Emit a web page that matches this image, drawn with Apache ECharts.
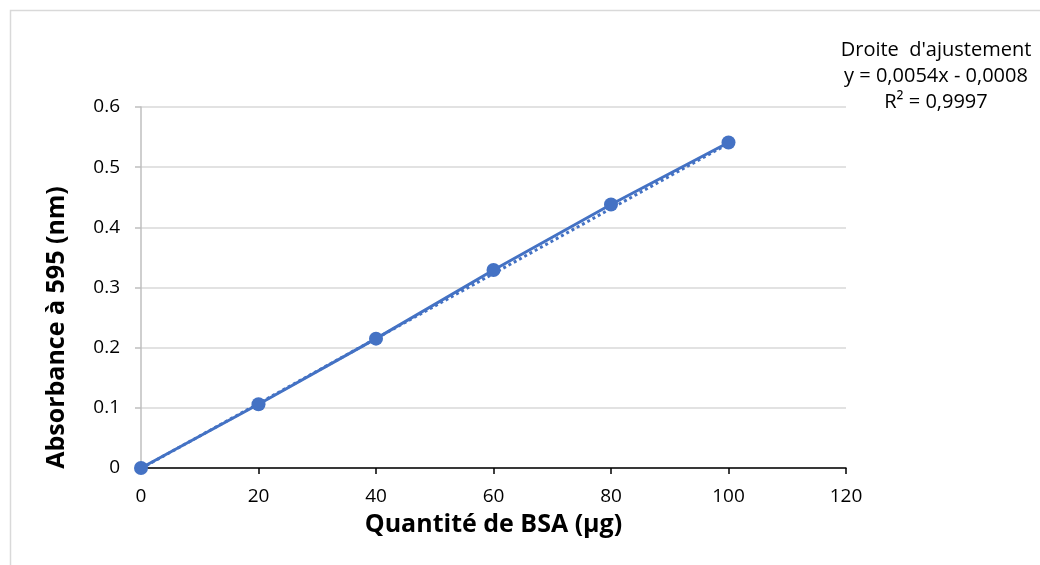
<!DOCTYPE html>
<html style="height: 100%">
    <head>
        <meta charset="utf-8">
    </head>
    <body style="height: 100%; margin: 0; background: #fff">
        <div id="container" style="width: 1040px; height: 565px"></div>
        <script type="text/javascript" src="https://cdn.jsdelivr.net/npm/echarts@6/dist/echarts.min.js"></script>
        <script type="text/javascript">

var xValues = [0, 20, 40, 60, 80, 100];
var absorbance = [0, 0.106, 0.215, 0.329, 0.438, 0.541];
// trendline ends as given by the fit y = 0,0054x - 0,0008
var trendX = [0, 100];
var trendY = [-0.0008, 0.5392];
var fitLabel = ["Droite  d'ajustement", 'y = 0,0054x - 0,0008', 'R² = 0,9997'];

var blue = '#4472C4';
var font = '"Open Sans", sans-serif';

var dom = document.getElementById('container');
var myChart = echarts.init(dom);

var option = {
    animation: false,
    backgroundColor: '#fff',
    textStyle: { fontFamily: font },
    graphic: [
        {
            type: 'polyline',
            shape: { points: [[10.5, 600], [10.5, 10.5], [1100, 10.5]] },
            style: { stroke: '#d9d9d9', lineWidth: 1.5, fill: null }
        },
        {
            type: 'text',
            x: 936,
            y: 37,
            style: {
                text: fitLabel.join('\n'),
                textAlign: 'center',
                fontFamily: font,
                fontSize: 20,
                lineHeight: 26,
                fill: '#000'
            }
        }
    ],
    grid: { left: 141, top: 107, width: 705, height: 361, containLabel: false },
    xAxis: {
        type: 'value',
        min: 0, max: 120, interval: 20,
        name: 'Quantité de BSA (µg)',
        nameLocation: 'middle',
        nameGap: 44,
        nameTextStyle: { fontFamily: font, fontSize: 25, fontWeight: 'bold', color: '#000' },
        axisLine: { onZero: false, lineStyle: { color: '#000', width: 1.5 } },
        axisTick: { show: true, length: 6, lineStyle: { color: '#000', width: 1.5 } },
        axisLabel: { fontFamily: font, fontSize: 19, color: '#000', margin: 19 },
        splitLine: { show: false }
    },
    yAxis: {
        type: 'value',
        min: 0, max: 0.6, interval: 0.1,
        name: 'Absorbance à 595 (nm)',
        nameLocation: 'middle',
        nameRotate: 90,
        nameGap: 72,
        nameTextStyle: {
            fontFamily: font, fontSize: 25, fontWeight: 'bold', color: '#000',
            padding: [0, 80, 0, 0]
        },
        axisLine: { show: true, lineStyle: { color: '#bfbfbf', width: 1.5 } },
        axisTick: { show: true, length: 6, lineStyle: { color: '#bfbfbf', width: 1.5 } },
        axisLabel: { fontFamily: font, fontSize: 19, color: '#000', margin: 21 },
        splitLine: { lineStyle: { color: '#d9d9d9', width: 1.5 } }
    },
    series: [
        {
            name: 'Tendance',
            type: 'line',
            data: trendX.map(function (x, i) { return [x, trendY[i]]; }),
            symbol: 'none',
            lineStyle: { color: blue, width: 3, type: 'dotted' },
            z: 1
        },
        {
            name: 'Absorbance',
            type: 'line',
            data: xValues.map(function (x, i) { return [x, absorbance[i]]; }),
            symbol: 'circle',
            symbolSize: 14,
            itemStyle: { color: blue },
            lineStyle: { color: blue, width: 3 },
            z: 2
        }
    ]
};

if (option && typeof option === 'object') {
    myChart.setOption(option);
}

        </script>
    </body>
</html>
